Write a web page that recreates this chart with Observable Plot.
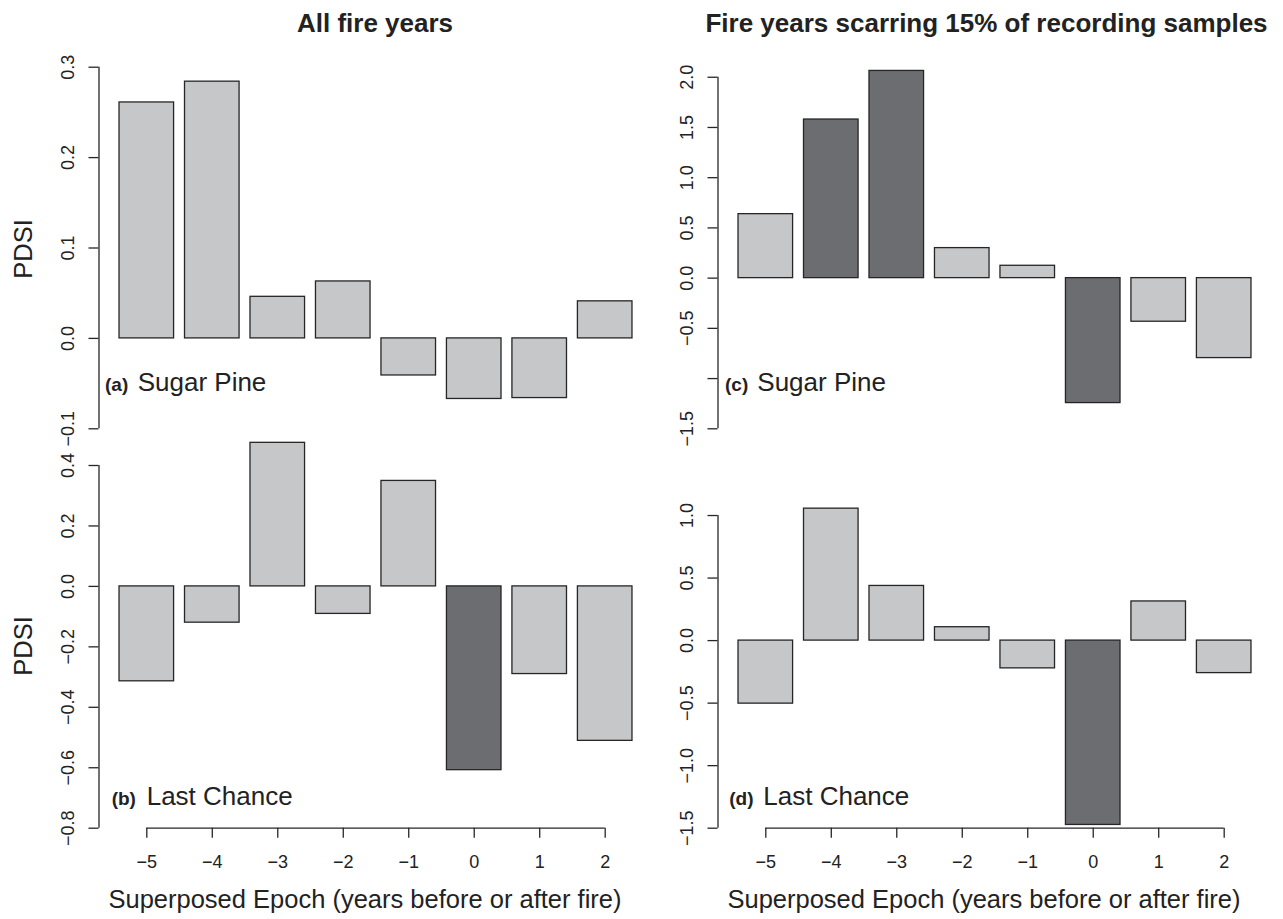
<!DOCTYPE html>
<html>
<head>
<meta charset="utf-8">
<script src="https://cdn.jsdelivr.net/npm/d3@7"></script>
<script src="https://cdn.jsdelivr.net/npm/@observablehq/plot@0.6"></script>
<style>
  body { margin: 0; background: #fff; }
  #fig { position: relative; width: 1283px; height: 919px; background: #fff;
         font-family: "Liberation Sans", Arial, Helvetica, sans-serif; color: #222; }
  #fig .panel { position: absolute; }
  #fig .panel svg { overflow: visible; }
  #fig svg.overlay { position: absolute; left: 0; top: 0; pointer-events: none; }
</style>
</head>
<body>
<div id="fig"></div>
<script>
// Superposed epoch analysis: mean PDSI in the years around fire events
const epochs = [-5, -4, -3, -2, -1, 0, 1, 2];

// All fire years
const sugarPineAll   = [0.261, 0.284, 0.046, 0.063, -0.041, -0.067, -0.066, 0.041];
const lastChanceAll  = [-0.314, -0.120, 0.475, -0.091, 0.349, -0.608, -0.290, -0.511];
// Fire years scarring 15% of recording samples
const sugarPine15    = [0.637, 1.579, 2.063, 0.299, 0.123, -1.244, -0.434, -0.796];
const lastChance15   = [-0.504, 1.055, 0.437, 0.107, -0.222, -1.474, 0.313, -0.260];

// Significant departures (1 = significant)
const sugarPineAllSig  = [0, 0, 0, 0, 0, 0, 0, 0];
const lastChanceAllSig = [0, 0, 0, 0, 0, 1, 0, 0];
const sugarPine15Sig   = [0, 1, 1, 0, 0, 1, 0, 0];
const lastChance15Sig  = [0, 0, 0, 0, 0, 1, 0, 0];

// Axis ticks
const ticksSugarPineAll  = [-0.1, 0, 0.1, 0.2, 0.3];
const ticksLastChanceAll = [-0.8, -0.6, -0.4, -0.2, 0, 0.2, 0.4];
const ticksSugarPine15   = [-1.5, -1, -0.5, 0, 0.5, 1, 1.5, 2];
const ticksLastChance15  = [-1.5, -1, -0.5, 0, 0.5, 1];

// Text
const columnTitles = ["All fire years", "Fire years scarring 15% of recording samples"];
const panelTags = ["(a)", "(b)", "(c)", "(d)"];
const siteNames = ["Sugar Pine", "Last Chance", "Sugar Pine", "Last Chance"];
const yTitle = "PDSI";
const xTitle = "Superposed Epoch (years before or after fire)";

const FONT = '"Liberation Sans", Arial, Helvetica, sans-serif';
const LIGHT = "#c6c7c9";
const DARK = "#6c6d71";
const INK = "#262626";
const HALF = 0.5 / 1.2;               // half bar width (barplot space = 0.2)
const X_DOMAIN = [-5.73, 2.73];
const fmt1 = d3.format(".1f");
const fmtInt = d3.format("d");

function panel(cfg) {
  const data = epochs.map((e, i) => ({epoch: e, value: cfg.values[i], sig: cfg.sig[i] === 1}));
  const marks = [
    Plot.rectY(data, {
      x1: d => d.epoch - HALF, x2: d => d.epoch + HALF, y1: 0, y2: "value",
      fill: d => d.sig ? DARK : LIGHT, stroke: INK, strokeWidth: 1.3
    }),
    Plot.ruleX([X_DOMAIN[0]], {y1: cfg.ticks[0], y2: cfg.ticks[cfg.ticks.length - 1], stroke: INK, strokeWidth: 1.3}),
    Plot.axisY({
      ticks: cfg.ticks, tickSize: 10, tickPadding: 21, tickRotate: -90,
      textAnchor: "middle", lineAnchor: "middle", label: null,
      tickFormat: d => (cfg.hide || []).includes(d) ? "" : fmt1(d),
      stroke: INK, strokeWidth: 1.3
    })
  ];
  if (cfg.bottom) {
    marks.push(
      Plot.ruleY([cfg.domain[0]], {x1: epochs[0], x2: epochs[epochs.length - 1], stroke: INK, strokeWidth: 1.3}),
      Plot.axisX({
        ticks: epochs, tickSize: 10, tickPadding: 24, lineAnchor: "middle",
        label: null, tickFormat: fmtInt, stroke: INK, strokeWidth: 1.3
      })
    );
  }
  const svg = Plot.plot({
    width: cfg.width, height: cfg.height,
    marginLeft: cfg.ml, marginRight: cfg.mr, marginTop: cfg.mt, marginBottom: cfg.mb,
    x: {type: "linear", domain: X_DOMAIN, axis: cfg.bottom ? undefined : null},
    y: {domain: cfg.domain},
    color: {type: "identity"},
    style: {background: "transparent", fontFamily: FONT, fontSize: "18px", color: "#222", overflow: "visible"},
    marks
  });
  const div = document.createElement("div");
  div.className = "panel";
  div.style.left = cfg.left + "px";
  div.style.top = cfg.top + "px";
  div.appendChild(svg);
  return div;
}

const fig = document.getElementById("fig");
const topRow = {top: 40, height: 406, mt: 26.7, mb: 17.7};
const botRow = {top: 446, height: 473, mt: 19, mb: 91.3};
const leftCol = {left: 0, width: 660, ml: 98.5, mr: 7.5};
const rightCol = {left: 660, width: 623, ml: 57.5, mr: 11.5};

fig.appendChild(panel({...topRow, ...leftCol, values: sugarPineAll, sig: sugarPineAllSig,
  domain: [-0.1, 0.3], ticks: ticksSugarPineAll}));
fig.appendChild(panel({...botRow, ...leftCol, values: lastChanceAll, sig: lastChanceAllSig,
  domain: [-0.8, 0.4], ticks: ticksLastChanceAll, bottom: true}));
fig.appendChild(panel({...topRow, ...rightCol, values: sugarPine15, sig: sugarPine15Sig,
  domain: [-1.5, 2.1], ticks: ticksSugarPine15, hide: [-1]}));
fig.appendChild(panel({...botRow, ...rightCol, values: lastChance15, sig: lastChance15Sig,
  domain: [-1.5, 1.4], ticks: ticksLastChance15, bottom: true}));

// Titles, axis titles and panel labels
const overlay = d3.select(fig).append("svg")
  .attr("class", "overlay").attr("width", 1283).attr("height", 919)
  .attr("font-family", FONT).attr("fill", "#222");

const titleX = [375, 986.5];
columnTitles.forEach((t, i) => overlay.append("text")
  .attr("x", titleX[i]).attr("y", 31.5).attr("text-anchor", "middle")
  .attr("font-size", 26).attr("font-weight", "bold").text(t));

[249, 646].forEach(cy => overlay.append("text")
  .attr("transform", `translate(31.5,${cy}) rotate(-90)`)
  .attr("text-anchor", "middle").attr("font-size", 25.5).text(yTitle));

[365, 984].forEach(cx => overlay.append("text")
  .attr("x", cx).attr("y", 908).attr("text-anchor", "middle")
  .attr("font-size", 25.5).text(xTitle));

const labelPos = [
  {x0: 105, x1: 137.7, y: 390.7},
  {x0: 111.7, x1: 146.7, y: 805},
  {x0: 725, x1: 757.3, y: 390.7},
  {x0: 729.3, x1: 763.3, y: 805}
];
labelPos.forEach((p, i) => {
  overlay.append("text").attr("x", p.x0).attr("y", p.y)
    .attr("font-size", 19).attr("font-weight", "bold").text(panelTags[i]);
  overlay.append("text").attr("x", p.x1).attr("y", p.y)
    .attr("font-size", 26).text(siteNames[i]);
});
</script>
</body>
</html>
